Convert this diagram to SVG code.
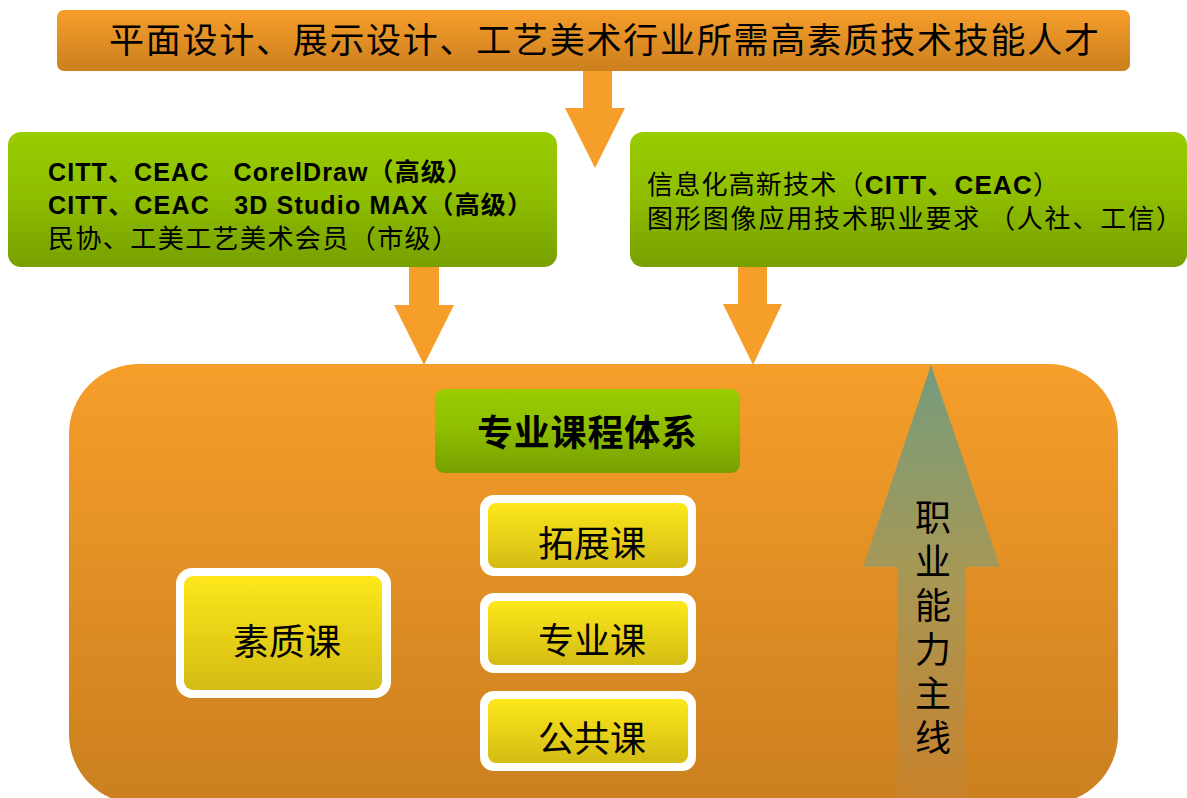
<svg xmlns="http://www.w3.org/2000/svg" width="1187" height="798" viewBox="0 0 1187 798">
<defs>
<linearGradient id="gOrange" x1="0" y1="0" x2="0" y2="1">
<stop offset="0" stop-color="#F69E2A"/><stop offset="1" stop-color="#CB7F1F"/>
</linearGradient>
<linearGradient id="gGreen" x1="0" y1="0" x2="0" y2="1">
<stop offset="0" stop-color="#99CC00"/><stop offset="0.45" stop-color="#8FBF00"/><stop offset="1" stop-color="#77A000"/>
</linearGradient>
<linearGradient id="gYellow" x1="0" y1="0" x2="0" y2="1">
<stop offset="0" stop-color="#FDE71A"/><stop offset="1" stop-color="#D3BC14"/>
</linearGradient>
<linearGradient id="gMain" gradientUnits="userSpaceOnUse" x1="0" y1="365" x2="0" y2="798">
<stop offset="0" stop-color="#749C7D"/><stop offset="0.47" stop-color="#A69857"/><stop offset="1" stop-color="#C9822A"/>
</linearGradient>
</defs>
<style>
.cjk{font-family:"Noto Sans CJK SC","Noto Sans",sans-serif;fill:#000;}
.mix{font-family:"Liberation Sans","Noto Sans CJK SC",sans-serif;fill:#000;white-space:pre;}
.b{font-weight:bold;}
.arrow{fill:#F59E2A;}
.white{fill:#FFFFFF;}
.yel{fill:url(#gYellow);}
.course{font-family:"Noto Sans CJK SC",sans-serif;font-size:36px;fill:#000;}
</style>

<g id="top-banner">
<rect x="57" y="10" width="1073" height="61" rx="7" fill="url(#gOrange)"/>
<text class="cjk" x="109" y="53" font-size="35" textLength="990">平面设计、展示设计、工艺美术行业所需高素质技术技能人才</text>
</g>

<g id="cert-box-left">
<rect x="8" y="132" width="549" height="135" rx="13" fill="url(#gGreen)"/>
<text class="mix b" x="48" y="181" font-size="25" textLength="424">CITT、CEAC   CorelDraw（高级）</text>
<text class="mix b" x="48" y="214" font-size="25" textLength="484">CITT、CEAC   3D Studio MAX（高级）</text>
<text class="cjk" x="48" y="248" font-size="26" textLength="410">民协、工美工艺美术会员（市级）</text>
</g>

<g id="cert-box-right">
<rect x="630" y="132" width="557" height="135" rx="13" fill="url(#gGreen)"/>
<text class="mix" x="647" y="194" font-size="26" textLength="412">信息化高新技术（<tspan class="b">CITT、CEAC</tspan>）</text>
<text class="cjk" x="647" y="228" font-size="26" textLength="535">图形图像应用技术职业要求 （人社、工信）</text>
</g>

<g id="curriculum-panel">
<rect x="69" y="364" width="1049" height="440" rx="70" fill="url(#gOrange)"/>
</g>

<g id="connectors">
<polygon class="arrow" points="583,71 612,71 612,108 625,108 595,168 565,108 583,108"/>
<polygon class="arrow" points="409,267 439,267 439,305 454,305 424,365 394,305 409,305"/>
<polygon class="arrow" points="738,267 767,267 767,304 782,304 753,365 723,304 738,304"/>
</g>

<g id="main-line">
<polygon points="931,365 1000,567 966,567 966,798 897,798 897,567 863,567" fill="url(#gMain)"/>
<text class="cjk" x="933" y="499" font-size="36" writing-mode="tb" letter-spacing="8">职业能力主线</text>
</g>

<g id="title-box">
<rect x="435" y="389" width="305" height="84" rx="9" fill="url(#gGreen)"/>
<text class="cjk" x="477" y="446" font-size="36" font-weight="bold" textLength="220">专业课程体系</text>
</g>

<g id="course-expand">
<rect class="white" x="480" y="495" width="216" height="81" rx="14"/>
<rect class="yel" x="488" y="503" width="200" height="65" rx="8"/>
<text class="course" x="538" y="557">拓展课</text>
</g>

<g id="course-major">
<rect class="white" x="480" y="593" width="216" height="80" rx="14"/>
<rect class="yel" x="488" y="601" width="200" height="64" rx="8"/>
<text class="course" x="538" y="654">专业课</text>
</g>

<g id="course-public">
<rect class="white" x="480" y="691" width="216" height="80" rx="14"/>
<rect class="yel" x="488" y="699" width="200" height="64" rx="8"/>
<text class="course" x="538" y="752">公共课</text>
</g>

<g id="course-quality">
<rect class="white" x="176" y="568" width="215" height="130" rx="16"/>
<rect class="yel" x="184" y="576" width="198" height="114" rx="9"/>
<text class="course" x="233" y="655">素质课</text>
</g>
</svg>
